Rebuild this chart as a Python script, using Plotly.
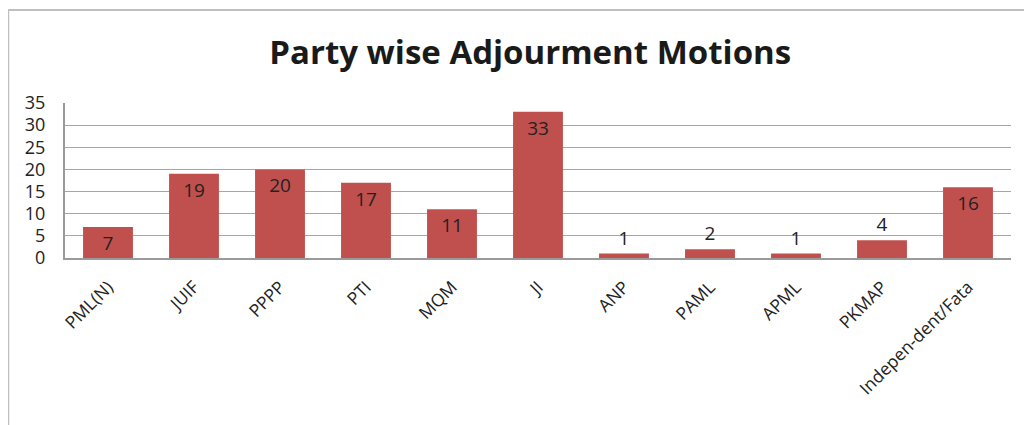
import plotly.graph_objects as go

parties = ['PML(N)', 'JUIF', 'PPPP', 'PTI', 'MQM', 'JI', 'ANP', 'PAML',
           'APML', 'PKMAP', 'Indepen-dent/Fata']
motions = [7, 19, 20, 17, 11, 33, 1, 2, 1, 4, 16]
y_ticks = [0, 5, 10, 15, 20, 25, 30, 35]

font_family = 'Open Sans, Noto Sans, sans-serif'

positions = ['inside' if v >= 7 else 'outside' for v in motions]

fig = go.Figure()
fig.add_trace(go.Bar(
    x=parties,
    y=motions,
    text=[str(v) for v in motions],
    textposition=positions,
    insidetextanchor='end',
    textangle=0,
    constraintext='none',
    textfont=dict(size=19, color='#222222', family=font_family),
    outsidetextfont=dict(size=19, color='#222222', family=font_family),
    cliponaxis=False,
    marker=dict(color='#c0504d', line=dict(width=0)),
    hoverinfo='x+y',
))

# page body adds an 8px margin, so the figure is shrunk by that amount
fig.update_layout(
    width=1024, height=417,
    margin=dict(l=57, r=21, t=95, b=167),
    paper_bgcolor='white',
    plot_bgcolor='white',
    showlegend=False,
    bargap=0.42,
    title=dict(text='<b>Party wise Adjourment Motions</b>',
               x=0.51, xanchor='center', y=0.894, yanchor='middle',
               font=dict(size=33, color='#1a1a1a', family=font_family)),
    font=dict(family=font_family, color='#222222'),
    xaxis=dict(tickangle=-45, tickfont=dict(size=17.5, color='#222222'),
               showline=True, linecolor='#9a9a9a', linewidth=2,
               ticks='outside', ticklen=10, tickcolor='rgba(0,0,0,0)',
               showgrid=False),
    yaxis=dict(range=[0, 35], tickvals=y_ticks,
               tickfont=dict(size=18, color='#222222'),
               showgrid=True, gridcolor='#a6a6a6', gridwidth=1,
               showline=True, linecolor='#9a9a9a', linewidth=2,
               ticks='outside', ticklen=14, tickcolor='rgba(0,0,0,0)',
               zeroline=False),
    shapes=[dict(type='rect', xref='paper', yref='paper',
                 x0=-0.060, x1=1.05, y0=-1.2, y1=1.6,
                 line=dict(color='#bfbfbf', width=2), layer='below')],
)

fig.write_html('out.html')
